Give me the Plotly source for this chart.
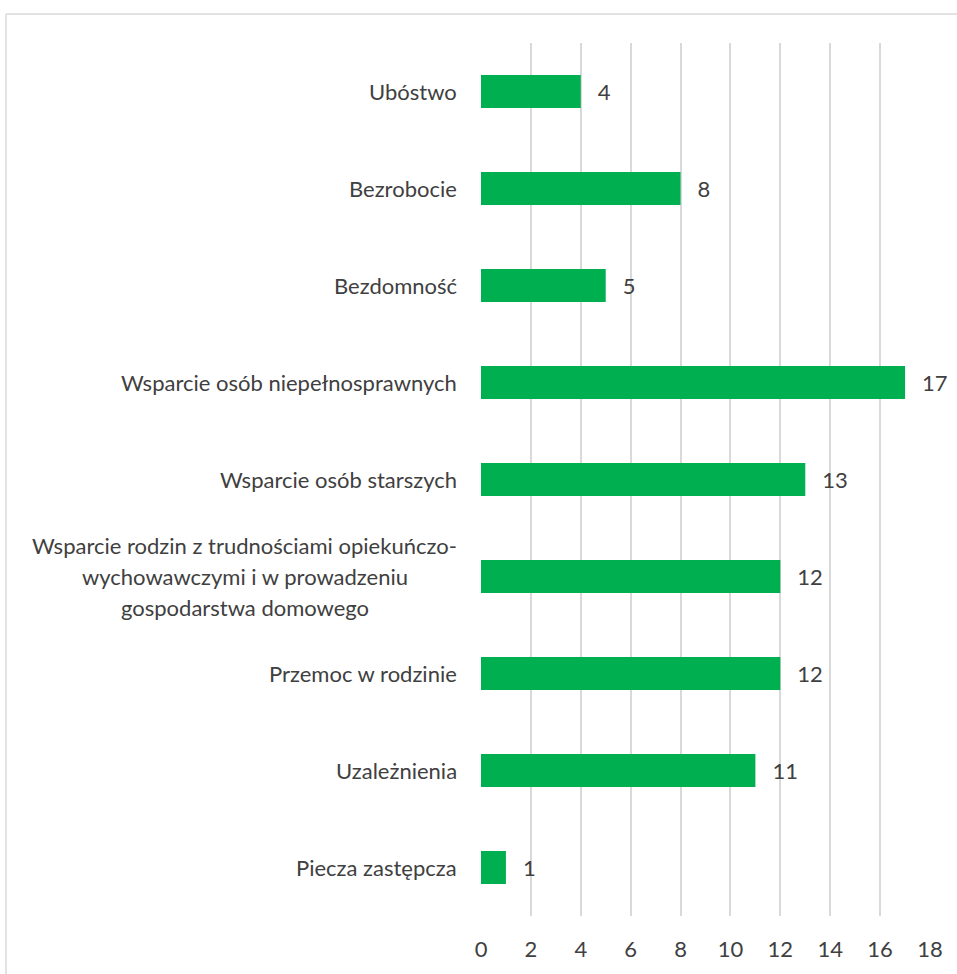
import plotly.graph_objects as go

categories = [
    "Ubóstwo",
    "Bezrobocie",
    "Bezdomność",
    "Wsparcie osób niepełnosprawnych",
    "Wsparcie osób starszych",
    "Wsparcie rodzin z trudnościami opiekuńczo-<br>wychowawczymi i w prowadzeniu<br>gospodarstwa domowego",
    "Przemoc w rodzinie",
    "Uzależnienia",
    "Piecza zastępcza",
]
values = [4, 8, 5, 17, 13, 12, 12, 11, 1]
x_ticks = [0, 2, 4, 6, 8, 10, 12, 14, 16, 18]

FONT = "Lato"
FS = 22
TXT = "#404040"
GRID = "#D9D9D9"
LINE_H = 31
CHAR_W = 10.2   # approx. average glyph width at FS
GAP = 22

fig = go.Figure(go.Bar(
    y=categories, x=values, orientation="h",
    marker=dict(color="#00B050", line=dict(width=0)),
    width=0.34,
    text=values, texttemplate="  \u2009%{x}", textposition="outside",
    textfont=dict(family=FONT, size=FS, color=TXT),
    cliponaxis=False,
))

annotations = []
for c in categories:
    lines = c.split("<br>")
    n = len(lines)
    if n == 1:
        annotations.append(dict(
            x=0, xref="paper", y=c, yref="y", text=c, showarrow=False,
            xanchor="right", xshift=-GAP,
            font=dict(family=FONT, size=FS, color=TXT),
        ))
    else:
        block_w = max(len(s) for s in lines) * CHAR_W
        for i, ln in enumerate(lines):
            annotations.append(dict(
                x=0, xref="paper", y=c, yref="y", text=ln, showarrow=False,
                xanchor="center", xshift=-GAP - block_w / 2,
                yshift=((n - 1) / 2 - i) * LINE_H,
                font=dict(family=FONT, size=FS, color=TXT),
            ))

W, H = 957, 974
l, t = 481, 43
r = W - 930
b = H - 919
pw, ph = W - l - r, H - t - b
def px(x): return (x - l) / pw
def py(y): return 1 - (y - t) / ph

shapes = [
    dict(type="line", xref="paper", yref="paper", x0=px(6), x1=px(970), y0=py(14), y1=py(14),
         line=dict(color=GRID, width=1.5)),
    dict(type="line", xref="paper", yref="paper", x0=px(6), x1=px(6), y0=py(14), y1=py(990),
         line=dict(color=GRID, width=1.5)),
]

fig.update_layout(
    width=W, height=H,
    margin=dict(l=l, r=r, t=t, b=b),
    paper_bgcolor="white", plot_bgcolor="white",
    showlegend=False,
    annotations=annotations,
    shapes=shapes,
    xaxis=dict(range=[0, 18], tickvals=x_ticks, showgrid=True, gridcolor=GRID, gridwidth=1.5,
               zeroline=False, showline=False, ticks="", ticklabelstandoff=18,
               tickfont=dict(family=FONT, size=FS, color=TXT)),
    yaxis=dict(categoryorder="array", categoryarray=categories, autorange="reversed",
               showticklabels=False, showgrid=False, zeroline=False, showline=False, ticks=""),
    bargap=0.66,
)

post = ("document.body.style.margin='0';document.body.style.overflow='hidden';"
        "document.documentElement.style.overflow='hidden';")
fig.write_html("out.html", post_script=post, config={"displayModeBar": False})
